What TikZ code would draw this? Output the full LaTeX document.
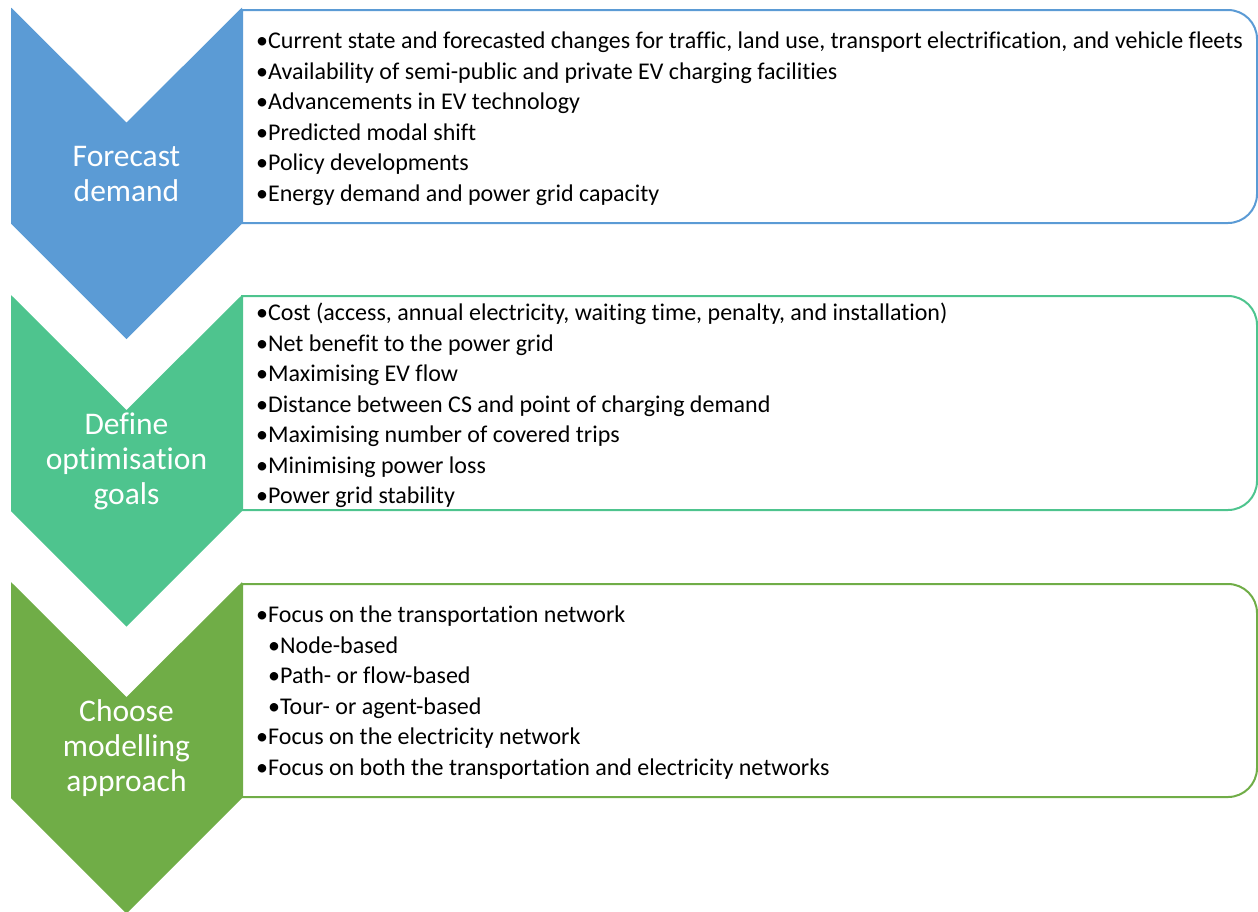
\documentclass[tikz,border=0pt]{standalone}
\usepackage{fontspec}
\setmainfont{Carlito}[Ligatures=NoCommon]
\usepackage{tikz}

\definecolor{demandblue}{HTML}{5B9BD5}
\definecolor{goalgreen}{HTML}{4EC48E}
\definecolor{modelgreen}{HTML}{70AD47}

\newcommand{\chevron}[2]{%
  \fill[#1] (11,#2) -- (126.5,#2+115) -- (242,#2) -- (242,#2+216)
    -- (126.5,#2+331.5) -- (11,#2+216) -- cycle;}
\newcommand{\listbox}[3]{%
  \draw[#1,line width=2pt] (242,#2) -- (700,#2) [rounded corners=29pt]
    -- (1257,#2) -- (1257,#3) -- (700,#3) [sharp corners] -- (242,#3) -- cycle;}

\tikzset{
  steptext/.style={text=white, align=center, inner sep=0pt,
    font=\fontsize{31.5}{35}\selectfont},
  itemtext/.style={anchor=west, align=left, inner sep=0pt,
    font=\fontsize{24}{30.5}\selectfont}
}

\begin{document}
\begin{tikzpicture}[x=1pt,y=-1pt]
\useasboundingbox (0,0) rectangle (1258,911);

\listbox{demandblue}{10}{223}
\listbox{goalgreen}{296}{510}
\listbox{modelgreen}{584}{797}

\chevron{demandblue}{7.5}
\chevron{goalgreen}{295}
\chevron{modelgreen}{582}

\node[steptext] (forecast) at (126.5,174) {Forecast\\demand};
\node[steptext] (define) at (126.5,461) {Define\\optimisation\\goals};
\node[steptext] (choose) at (126.5,748) {Choose\\modelling\\approach};

\node[itemtext] (forecastlist) at (256,118.5) {%
  •Current state and forecasted changes for traffic, land use, transport electrification, and vehicle fleets\\
  •Availability of semi-public and private EV charging facilities\\
  •Advancements in EV technology\\
  •Predicted modal shift\\
  •Policy developments\\
  •Energy demand and power grid capacity};

\node[itemtext] (definelist) at (256,405.5) {%
  •Cost (access, annual electricity, waiting time, penalty, and installation)\\
  •Net benefit to the power grid\\
  •Maximising EV flow\\
  •Distance between CS and point of charging demand\\
  •Maximising number of covered trips\\
  •Minimising power loss\\
  •Power grid stability};

\node[itemtext] (chooselist) at (256,692.5) {%
  •Focus on the transportation network\\
  \hspace{12pt}•Node-based\\
  \hspace{12pt}•Path- or flow-based\\
  \hspace{12pt}•Tour- or agent-based\\
  •Focus on the electricity network\\
  •Focus on both the transportation and electricity networks};
\end{tikzpicture}
\end{document}
